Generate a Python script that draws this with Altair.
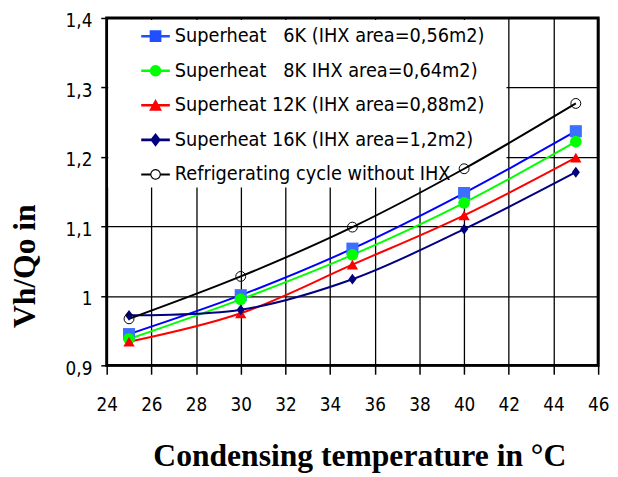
import math
import altair as alt
import pandas as pd

# ---- data ----
temps = [25, 30, 35, 40, 45]
series_names = [
    "Superheat\u00a0\u00a0\u00a06K (IHX area=0,56m2)",
    "Superheat\u00a0\u00a0\u00a08K IHX area=0,64m2)",
    "Superheat 12K (IHX area=0,88m2)",
    "Superheat 16K (IHX area=1,2m2)",
    "Refrigerating cycle without IHX",
]
sh6 = [0.945, 1.001, 1.068, 1.148, 1.237]
sh8 = [0.938, 0.995, 1.059, 1.134, 1.222]
sh12 = [0.934, 0.975, 1.045, 1.116, 1.199]
sh16 = [0.972, 0.980, 1.024, 1.096, 1.178]
noihx = [0.967, 1.028, 1.099, 1.183, 1.277]
x_ticks = [24, 26, 28, 30, 32, 34, 36, 38, 40, 42, 44, 46]
y_ticks = [0.9, 1.0, 1.1, 1.2, 1.3, 1.4]

line_colors = ["#0000ff", "#00ff00", "#ff0000", "#000080", "#000000"]
marker_colors = ["#3d6fff", "#00ff00", "#ff0000", "#000080"]
legend_colors = ["#1f4fff", "#00ff00", "#ff0000", "#000080", "#000000"]

rows = []
for name, vals in zip(series_names, [sh6, sh8, sh12, sh16, noihx]):
    for t, v in zip(temps, vals):
        rows.append({"series": name, "temp": t, "value": v})
df = pd.DataFrame(rows)

# white legend backdrop (behind the series, hides the grid), in data units
backdrop = pd.DataFrame({"temp": [24.07], "temp2": [41.9], "value": [1.156], "value2": [1.397]})

NARROW = "DejaVu Sans Condensed, sans-serif"
SERIF = "Liberation Serif, Times New Roman, serif"

x_enc = alt.X(
    "temp:Q",
    scale=alt.Scale(domain=[24, 46], nice=False, zero=False),
    axis=alt.Axis(
        values=x_ticks, grid=True, gridColor="black", gridWidth=1.3, gridOpacity=1,
        domain=False, ticks=True, tickColor="black", tickSize=9, tickWidth=1.5,
        labelFont=NARROW, labelFontSize=19, labelColor="black", labelPadding=22,
        labelFlush=False, labelOverlap=False,
        title="Condensing temperature in °C", titleFont=SERIF, titleFontSize=32,
        titleFontWeight="bold", titleColor="black", titleX=256, titleY=101,
        titleAlign="center", titleBaseline="alphabetic",
    ),
)
y_enc = alt.Y(
    "value:Q",
    scale=alt.Scale(domain=[0.9, 1.4], nice=False, zero=False),
    axis=alt.Axis(
        values=y_ticks, grid=True, gridColor="black", gridWidth=1.3, gridOpacity=1,
        domain=False, ticks=True, tickColor="black", tickSize=6, tickWidth=1.5,
        labelFont=NARROW, labelFontSize=19, labelColor="black", labelPadding=9,
        labelFlush=False, labelOverlap=False, labelBaseline="middle", labelOffset=3,
        labelExpr="replace(format(datum.value, '.1~f'), '.', ',')",
        title="Vh/Qo in", titleFont=SERIF, titleFontSize=32, titleFontWeight="bold",
        titleColor="black", titleAngle=270, titleX=-73, titleY=251,
        titleAlign="center", titleBaseline="alphabetic",
    ),
)

base = alt.Chart(df)

box = alt.Chart(backdrop).mark_rect(color="white", strokeWidth=0).encode(
    x=x_enc, x2="temp2:Q", y=y_enc, y2="value2:Q"
)

lines = base.mark_line(strokeWidth=2, interpolate="catmull-rom").encode(
    x=x_enc, y=y_enc,
    color=alt.Color("series:N", scale=alt.Scale(domain=series_names, range=line_colors), legend=None),
)

diamond = "M0,-1L0.75,0L0,1L-0.75,0Z"
filled_pts = base.transform_filter(
    alt.FieldOneOfPredicate(field="series", oneOf=series_names[:4])
).mark_point(filled=True, opacity=1, strokeWidth=0).encode(
    x=x_enc, y=y_enc,
    color=alt.Color("series:N", scale=alt.Scale(domain=series_names[:4], range=marker_colors), legend=None),
    shape=alt.Shape("series:N", scale=alt.Scale(domain=series_names[:4],
                    range=["square", "circle", "triangle-up", diamond]), legend=None),
    size=alt.Size("series:N", scale=alt.Scale(domain=series_names[:4], range=[150, 120, 165, 200]), legend=None),
)

open_pts = base.transform_filter(
    alt.datum.series == series_names[4]
).mark_point(shape="circle", filled=False, stroke="black", strokeWidth=1, size=100, opacity=1).encode(
    x=x_enc, y=y_enc,
)


def poly(r, n=24, reverse=False):
    angs = [2 * math.pi * k / n for k in range(n)]
    if reverse:
        angs = angs[::-1]
    pts = ["%.3f,%.3f" % (r * math.cos(a), r * math.sin(a)) for a in angs]
    return "M" + "L".join(pts) + "Z"


# legend symbols: line segment with marker, in unit coordinates
ln = "M-1,-0.09L1,-0.09L1,0.09L-1,0.09Z"
sym_square = ln + "M-0.41,-0.41L0.41,-0.41L0.41,0.41L-0.41,0.41Z"
sym_circle = ln + poly(0.4)
sym_tri = ln + "M0,-0.45L0.45,0.38L-0.45,0.38Z"
sym_diam = ln + "M0,-0.48L0.37,0L0,0.48L-0.37,0Z"
sym_ring = ("M-1,-0.07L-0.36,-0.07L-0.36,0.07L-1,0.07Z"
            "M0.36,-0.07L1,-0.07L1,0.07L0.36,0.07Z"
            + poly(0.37) + poly(0.29, reverse=True))

leg = alt.Legend(
    orient="none", legendX=25, legendY=-6, title=None, padding=10,
    symbolSize=841, symbolStrokeWidth=0, symbolOpacity=1,
    labelFont=NARROW, labelFontSize=20, labelColor="black", labelOffset=5,
    rowPadding=10, labelLimit=0,
)

legend_layer = base.transform_filter("false").mark_point(
    filled=True, size=841, strokeWidth=0, opacity=1
).encode(
    x=x_enc, y=y_enc,
    color=alt.Color("series:N", scale=alt.Scale(domain=series_names, range=legend_colors), legend=leg),
    shape=alt.Shape("series:N", scale=alt.Scale(domain=series_names,
                    range=[sym_square, sym_circle, sym_tri, sym_diam, sym_ring]), legend=leg),
)

chart = alt.layer(box, lines, filled_pts, open_pts, legend_layer).resolve_scale(
    color="independent", shape="independent", size="independent"
).properties(
    width=498, height=352,
    autosize=alt.AutoSizeParams(type="none"),
    padding={"left": 100, "top": 7, "right": 12, "bottom": 110},
    background="white",
).configure_view(stroke="black", strokeWidth=3)

chart.save("out.html", embed_options={"renderer": "svg", "actions": False})
